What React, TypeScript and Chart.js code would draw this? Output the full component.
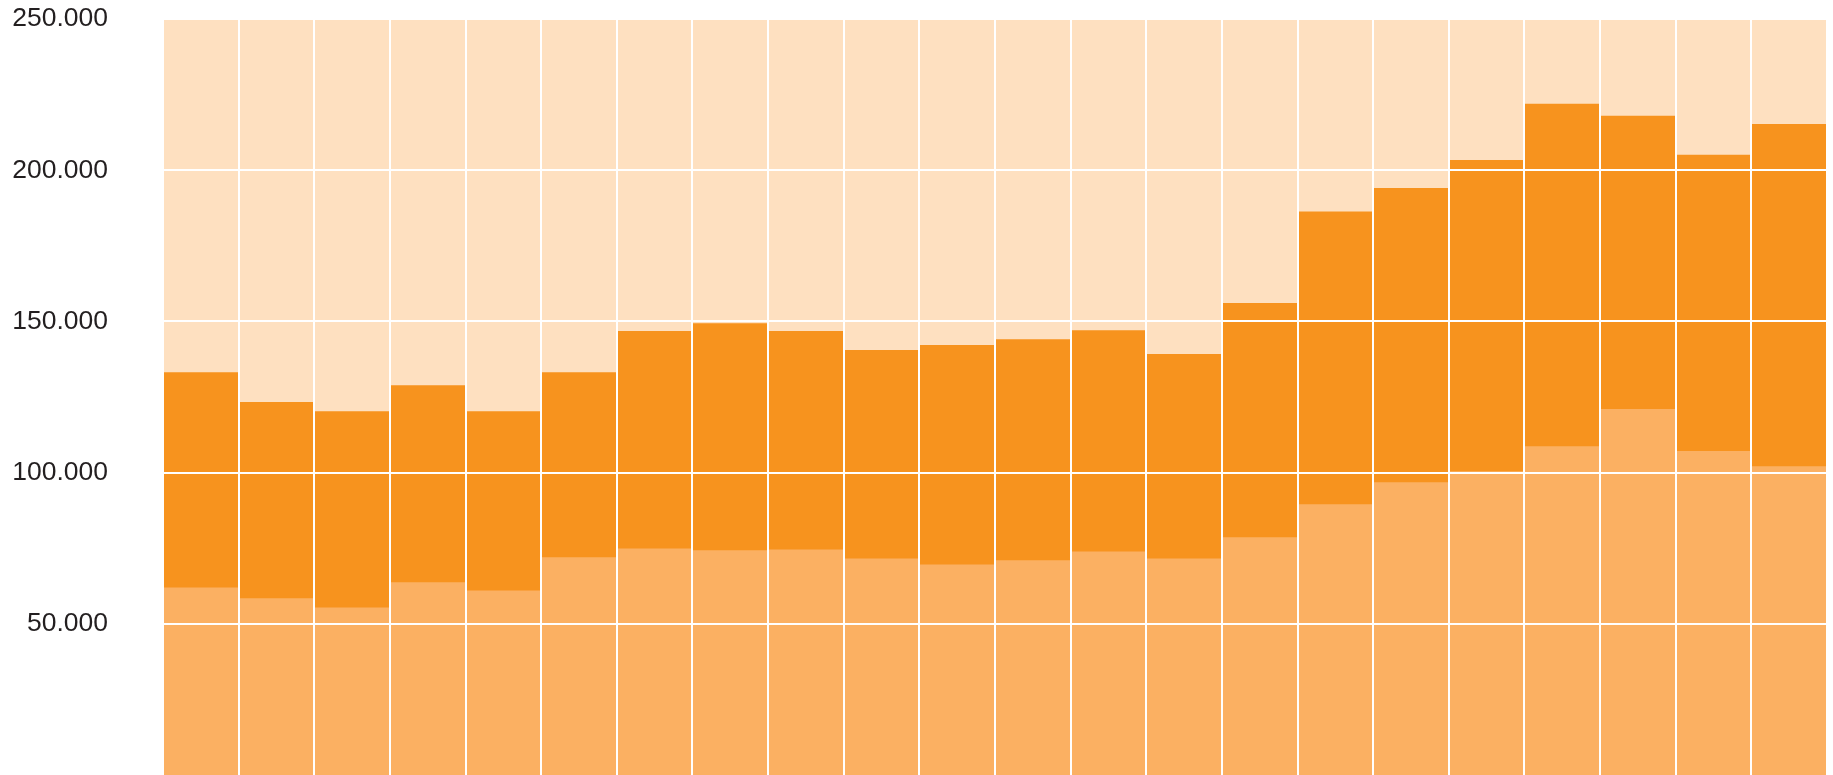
import React, { useEffect, useRef } from "react";
import { Chart, registerables } from "chart.js";

Chart.register(...registerables);

const categories = [
  "1", "2", "3", "4", "5", "6", "7", "8", "9", "10", "11",
  "12", "13", "14", "15", "16", "17", "18", "19", "20", "21", "22",
];

const lowerSeries = [
  61900, 58300, 55300, 63600, 60900, 71900, 74800, 74200, 74500, 71500, 69500,
  70900, 73800, 71500, 78500, 89400, 96700, 100300, 108600, 120900, 107000, 102000,
];

const upperSeries = [
  71200, 64900, 64900, 65200, 59300, 61200, 71900, 75100, 72200, 68900, 72600,
  73100, 73200, 67600, 77500, 96800, 97300, 103000, 113300, 97000, 98000, 113200,
];

const yTickValues = [0, 50000, 100000, 150000, 200000, 250000];

const COLOR_LOWER = "#FBB062";
const COLOR_UPPER = "#F7931E";
const COLOR_AREA = "#FEE0C0";
const COLOR_TEXT = "#231F20";

const areaBg = {
  id: "areaBg",
  beforeDatasetsDraw(chart: any) {
    const { ctx, chartArea } = chart;
    ctx.save();
    ctx.fillStyle = COLOR_AREA;
    ctx.fillRect(chartArea.left, chartArea.top, chartArea.right - chartArea.left, chartArea.bottom - chartArea.top);
    ctx.restore();
  },
};

export default function App() {
  const ref = useRef<HTMLCanvasElement | null>(null);

  useEffect(() => {
    if (!ref.current) return;
    const chart = new Chart(ref.current, {
      type: "bar",
      data: {
        labels: categories,
        datasets: [
          {
            label: "lower",
            data: lowerSeries,
            backgroundColor: COLOR_LOWER,
            borderWidth: 0,
            barPercentage: 1,
            categoryPercentage: 1,
          },
          {
            label: "upper",
            data: upperSeries,
            backgroundColor: COLOR_UPPER,
            borderWidth: 0,
            barPercentage: 1,
            categoryPercentage: 1,
          },
        ],
      },
      options: {
        animation: false,
        responsive: true,
        maintainAspectRatio: false,
        layout: { padding: { top: 19, right: 6, bottom: 0, left: 0 } },
        plugins: {
          legend: { display: false },
          tooltip: { enabled: false },
        },
        scales: {
          x: {
            stacked: true,
            offset: true,
            grid: {
              display: true,
              offset: true,
              color: "#FFFFFF",
              lineWidth: 2,
              drawTicks: false,
              z: 1,
            },
            border: { display: false },
            ticks: { display: false },
          },
          y: {
            stacked: true,
            min: 0,
            max: 250000,
            afterBuildTicks: (scale: any) => {
              scale.ticks = yTickValues.map((v) => ({ value: v }));
            },
            afterFit: (scale: any) => {
              scale.width = 163;
              scale.paddingTop = 0;
              scale.paddingBottom = 0;
            },
            grid: {
              color: "#FFFFFF",
              lineWidth: 2,
              drawTicks: false,
              z: 1,
            },
            border: { display: false },
            ticks: {
              padding: 55,
              color: COLOR_TEXT,
              font: { family: "'Liberation Sans', Arial, sans-serif", size: 26.5 },
              callback: (value: any) => (value === 0 ? null : Number(value).toLocaleString("de-DE")),
            },
          },
        },
      },
      plugins: [areaBg],
    });
    return () => chart.destroy();
  }, []);

  return (
    <div style={{ position: "fixed", left: 0, top: 0, width: 1833, height: 775, background: "#FFFFFF" }}>
      <canvas ref={ref} />
    </div>
  );
}
